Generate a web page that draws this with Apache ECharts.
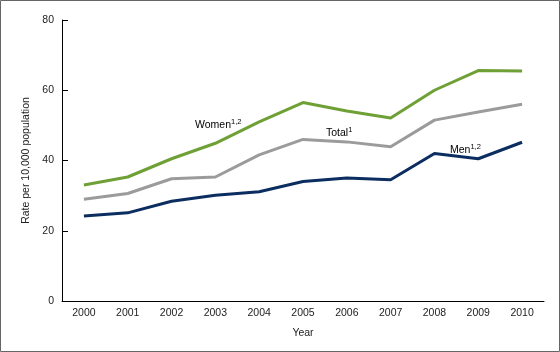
<!DOCTYPE html>
<html><head><meta charset="utf-8">
<script src="https://cdn.jsdelivr.net/npm/echarts@6/dist/echarts.min.js"></script>
<style>html,body{margin:0;padding:0;background:#fff}#c{width:560px;height:352px}</style>
</head><body><div id="c"></div>
<script>
const years = ['2000','2001','2002','2003','2004','2005','2006','2007','2008','2009','2010'];
const women = [33.0, 35.3, 40.5, 44.9, 51.0, 56.5, 54.1, 52.1, 60.0, 65.6, 65.5];
const total = [29.0, 30.6, 34.8, 35.3, 41.6, 46.0, 45.3, 43.9, 51.5, 53.8, 56.0];
const men   = [24.2, 25.1, 28.4, 30.1, 31.1, 34.0, 35.0, 34.5, 42.0, 40.5, 45.2];
const yTicks = [0, 20, 40, 60, 80];

const font = 'Liberation Sans, Arial, sans-serif';
const chart = echarts.init(document.getElementById('c'), null, {renderer:'canvas'});
const sup = {fontSize: 7.5, verticalAlign: 'top', padding:[0,0,6,0], fontFamily: font, color:'#222'};
const base = {fontFamily: font, fontSize: 10.5, color: '#222'};
chart.setOption({
  animation: false,
  backgroundColor: '#fff',
  grid: {left: 62, right: 16, top: 20, bottom: 51, containLabel: false},
  xAxis: {
    type: 'category', data: years, boundaryGap: true,
    name: 'Year', nameLocation: 'middle', nameGap: 27,
    nameTextStyle: {fontFamily: font, fontSize: 10.5, color: '#222'},
    axisLine: {lineStyle: {color: '#000', width: 1}},
    axisTick: {alignWithLabel: true, inside: true, length: 5, lineStyle: {color: '#000'}},
    axisLabel: {fontFamily: font, fontSize: 10.5, color: '#222', margin: 7}
  },
  yAxis: {
    type: 'value', min: yTicks[0], max: yTicks[yTicks.length-1], interval: 20,
    name: 'Rate per 10,000 population', nameLocation: 'middle', nameGap: 27,
    nameTextStyle: {fontFamily: font, fontSize: 10.5, color: '#222'},
    axisLine: {show: true, lineStyle: {color: '#000', width: 1}},
    axisTick: {show: true, inside: true, length: 6, lineStyle: {color: '#000'}},
    axisLabel: {fontFamily: font, fontSize: 10.5, color: '#222', margin: 8},
    splitLine: {show: false}
  },
  series: [
    {name: 'Women', type: 'line', data: women, symbol: 'none', lineStyle: {color: '#6ea035', width: 3}},
    {name: 'Total', type: 'line', data: total, symbol: 'none', lineStyle: {color: '#9b9b9b', width: 3}},
    {name: 'Men', type: 'line', data: men, symbol: 'none', lineStyle: {color: '#0c2d5f', width: 3}}
  ],
  graphic: [
    {type: 'rect', shape: {x: 0.5, y: 0.5, width: 559, height: 351}, style: {fill: 'none', stroke: '#666', lineWidth: 1}, silent: true},
    {type: 'text', left: 195, top: 118, style: {text: '{a|Women}{s|1,2}', rich: {a: base, s: sup}}},
    {type: 'text', left: 326, top: 126, style: {text: '{a|Total}{s|1}', rich: {a: base, s: sup}}},
    {type: 'text', left: 450, top: 143, style: {text: '{a|Men}{s|1,2}', rich: {a: base, s: sup}}}
  ]
});
</script></body></html>
